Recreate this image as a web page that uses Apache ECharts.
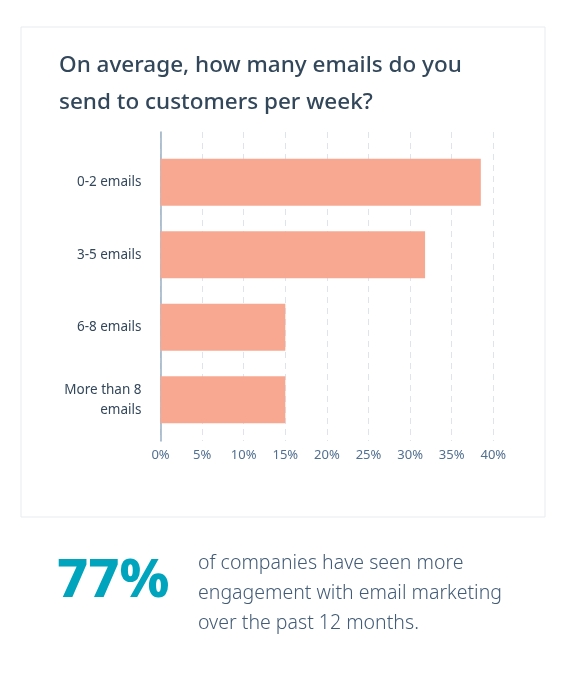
<!DOCTYPE html>
<html>
<head>
<meta charset="utf-8">
<script src="https://cdn.jsdelivr.net/npm/echarts@6/dist/echarts.min.js"></script>
<style>
html,body{margin:0;padding:0;background:#fff;}
#c{width:569px;height:681px;}
</style>
</head>
<body>
<div id="c"></div>
<script>
var categories = ['0-2 emails', '3-5 emails', '6-8 emails', 'More than 8\nemails'];
var values = [38.5, 31.8, 15, 15];
var xTicks = [0, 5, 10, 15, 20, 25, 30, 35, 40];

var chart = echarts.init(document.getElementById('c'), null, {renderer: 'canvas'});
var FONT = '"Noto Sans", "Open Sans", sans-serif';
var L = 160.5, R = 569 - 493.3;
chart.setOption({
  backgroundColor: '#ffffff',
  animation: false,
  title: [
    {
      text: 'On average, how many emails do you\nsend to customers per week?',
      left: 54, top: 42,
      textStyle: {fontFamily: FONT, fontSize: 22.5, fontWeight: 500, color: '#33475b', lineHeight: 37}
    },
    {
      text: '77%',
      left: 52, top: 550,
      textStyle: {fontFamily: FONT, fontSize: 54, fontWeight: 800, color: '#00a4bd'}
    },
    {
      text: 'of companies have seen more\nengagement with email marketing\nover the past 12 months.',
      left: 193, top: 543,
      textStyle: {fontFamily: FONT, fontSize: 19.5, fontWeight: 300, color: '#425b76', lineHeight: 30}
    }
  ],
  graphic: [{
    type: 'rect', left: 18.5, top: 24.5, z: -1,
    shape: {width: 524, height: 490},
    style: {fill: 'none', stroke: '#e8ebee', lineWidth: 1}
  }],
  grid: [
    {left: L, right: R, top: 132, height: 309},
    {left: L, right: R, top: 146, height: 290}
  ],
  xAxis: [
    {
      gridIndex: 0, type: 'value', min: 0, max: 40, interval: 5,
      axisLine: {show: false}, axisTick: {show: false},
      axisLabel: {formatter: '{value}%', color: '#516f90', fontFamily: FONT, fontSize: 13, margin: 8},
      splitLine: {show: true, lineStyle: {color: '#dfe3eb', type: [6, 5], width: 1}}
    },
    {
      gridIndex: 1, type: 'value', min: 0, max: 40, show: false
    }
  ],
  yAxis: [
    {
      gridIndex: 0, type: 'value', min: 0, max: 1,
      axisLine: {show: true, lineStyle: {color: '#99afc4', width: 1.5}},
      axisTick: {show: false}, axisLabel: {show: false}, splitLine: {show: false}
    },
    {
      gridIndex: 1, type: 'category', data: categories, inverse: true,
      axisLine: {show: false}, axisTick: {show: false},
      axisLabel: {color: '#33475b', fontFamily: FONT, fontSize: 13.5, margin: 19, lineHeight: 20, align: 'right'}
    }
  ],
  series: [{
    type: 'bar', xAxisIndex: 1, yAxisIndex: 1,
    data: values, barCategoryGap: '35%',
    itemStyle: {color: '#f8a891'}, z: 3
  }]
});
</script>
</body>
</html>
